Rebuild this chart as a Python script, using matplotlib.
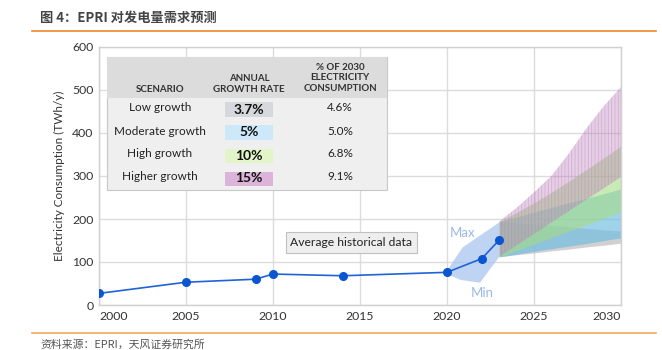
import matplotlib
matplotlib.use("Agg")
import matplotlib.pyplot as plt
from matplotlib.patches import Rectangle

plt.rcParams['font.family'] = ['Lato', 'DejaVu Sans']
plt.rcParams['hatch.linewidth'] = 0.6

# ---------------- data ----------------
hist_years = [2000, 2005, 2009, 2010, 2014, 2020, 2022, 2023]
hist_vals = [27, 53, 60, 72, 68, 76, 108, 151]

max_years = [2020, 2020.9, 2023]
max_vals = [80, 134, 192]
min_years = [2020, 2020.8, 2021.9, 2023]
min_vals = [72, 58, 52, 112]

fan_years = [2023, 2024, 2025, 2026, 2027, 2028, 2029, 2030]
low_hi = [194, 191, 188, 185, 182, 178, 175, 172]
low_lo = [112, 117, 121, 126, 130, 135, 139, 144]
mod_hi = [194, 205, 216, 227, 238, 248, 259, 270]
mod_lo = [112, 118, 125, 131, 137, 143, 150, 156]
high_hi = [194, 215, 238, 262, 288, 315, 342, 370]
high_lo = [112, 127, 142, 157, 172, 186, 201, 216]
higher_hi = [194, 226, 262, 300, 352, 410, 462, 507]
higher_lo = [112, 139, 165, 192, 218, 245, 271, 298]

scenarios = ["Low growth", "Moderate growth", "High growth", "Higher growth"]
growth_rates = ["3.7%", "5%", "10%", "15%"]
share_2030 = ["4.6%", "5.0%", "6.8%", "9.1%"]
rate_colors = ["#d5d9de", "#cde8f8", "#e3f4c9", "#dcb4d9"]

x_ticks = [2000, 2005, 2010, 2015, 2020, 2025, 2030]
y_ticks = [0, 100, 200, 300, 400, 500, 600]

title = "图 4：EPRI 对发电量需求预测"
source = "资料来源：EPRI，天风证券研究所"

# ---------------- figure ----------------
fig = plt.figure(figsize=(6.62, 3.5), dpi=100)
ax = fig.add_axes([99/662, 1-305/350, (621-99)/662, (305-47)/350])

ax.set_xlim(2000, 2030)
ax.set_ylim(0, 600)
ax.set_xticks(x_ticks)
ax.set_yticks(y_ticks)
ax.grid(True, color="#dcdcdc", linewidth=1.0, zorder=0)
ax.set_axisbelow(True)
for s in ax.spines.values():
    s.set_color("#d0d0d0")
    s.set_linewidth(1.0)
ax.tick_params(length=0, labelsize=8.8, colors="#333333", pad=4)
labels = ax.get_xticklabels()
labels[0].set_horizontalalignment('left')
labels[-1].set_horizontalalignment('right')
ax.set_ylabel("Electricity Consumption (TWh/y)", fontsize=8.5, color="#333333", labelpad=5)

# forecast fans
ax.fill_between(fan_years, low_lo, low_hi, color="#bdbdbd", alpha=0.7, linewidth=0, zorder=2)
ax.fill_between(fan_years, mod_lo, mod_hi, color="#6cbce2", alpha=0.65, linewidth=0, zorder=2)
ax.fill_between(fan_years, high_lo, high_hi, color="#a6dc84", alpha=0.6, linewidth=0, zorder=2)
ax.fill_between(fan_years, higher_lo, higher_hi, facecolor="#bf80bf", edgecolor="#b080b0",
                hatch="|||||", alpha=0.38, linewidth=0, zorder=3)

# min/max range
ax.fill(max_years + min_years[::-1], max_vals + min_vals[::-1], color="#a9c6ee", alpha=0.75,
        linewidth=0, zorder=3)
ax.text(2020.9, 168, "Max", fontsize=9.5, color="#9ab8e8", ha="center", va="center", zorder=5)
ax.text(2022.0, 27, "Min", fontsize=9.5, color="#9ab8e8", ha="center", va="center", zorder=5)

# historical line
ax.plot(hist_years, hist_vals, color="#1f63d8", linewidth=1.2, marker="o", markersize=5.5,
        markerfacecolor="#0a56d2", markeredgecolor="#0a56d2", zorder=6)

ax.text(2011.0, 145, "Average historical data", fontsize=8.7, color="#222222", ha="left", va="center",
        bbox=dict(boxstyle="square,pad=0.4", facecolor="#eeeeee", edgecolor="#c0c0c0", linewidth=0.8),
        zorder=7)

# ---------------- table ----------------
def fx(px):
    return px / 662
def fy(py):
    return 1 - py / 350

tl, tr, tt, th, tb = 107, 387, 57, 98, 190
fig.patches.append(Rectangle((fx(tl), fy(tb)), fx(tr) - fx(tl), fy(tt) - fy(tb), transform=fig.transFigure,
                             facecolor="#efefef", edgecolor="#c8c8c8", linewidth=0.8, zorder=10))
fig.patches.append(Rectangle((fx(tl), fy(th)), fx(tr) - fx(tl), fy(tt) - fy(th), transform=fig.transFigure,
                             facecolor="#dcdcdc", edgecolor="none", linewidth=0, zorder=10))
hdr = dict(fontsize=7.0, fontweight="bold", color="#333333", ha="center", va="center", zorder=11,
           transform=fig.transFigure, linespacing=1.2)
fig.text(fx(160), fy(90), "SCENARIO", **hdr)
fig.text(fx(249), fy(84), "ANNUAL\nGROWTH RATE", **hdr)
fig.text(fx(340), fy(78), "% OF 2030\nELECTRICITY\nCONSUMPTION", **hdr)

row_y = [108, 131, 154, 177]
for i in range(len(scenarios)):
    y = row_y[i]
    fig.text(fx(160), fy(y), scenarios[i], fontsize=8.5, color="#222222", ha="center", va="center",
             transform=fig.transFigure, zorder=11)
    fig.patches.append(Rectangle((fx(225), fy(y + 8.5)), fx(273) - fx(225), 14 / 350,
                                 transform=fig.transFigure, facecolor=rate_colors[i], edgecolor="none",
                                 zorder=10.5))
    fig.text(fx(249), fy(y + 1.5), growth_rates[i], fontsize=10, fontweight="bold", color="#111111",
             ha="center", va="center", transform=fig.transFigure, zorder=11)
    fig.text(fx(340), fy(y), share_2030[i], fontsize=8.5, color="#222222", ha="center", va="center",
             transform=fig.transFigure, zorder=11)

# ---------------- title / source ----------------
cjk = ['Noto Sans CJK SC', 'DejaVu Sans']
fig.text(fx(40), fy(18), title, fontsize=9.5, fontweight="bold", color="#444444", ha="left", va="center",
         family=cjk)
fig.add_artist(plt.Line2D([fx(32), fx(656)], [fy(31), fy(31)], color="#f0882a", linewidth=1.2,
                          transform=fig.transFigure))
fig.add_artist(plt.Line2D([fx(32), fx(656)], [fy(333), fy(333)], color="#f5a860", linewidth=1.2,
                          transform=fig.transFigure))
fig.text(fx(40), fy(345), source, fontsize=7.8, color="#555555", ha="left", va="center", family=cjk)

fig.savefig("out.png", dpi=100)
